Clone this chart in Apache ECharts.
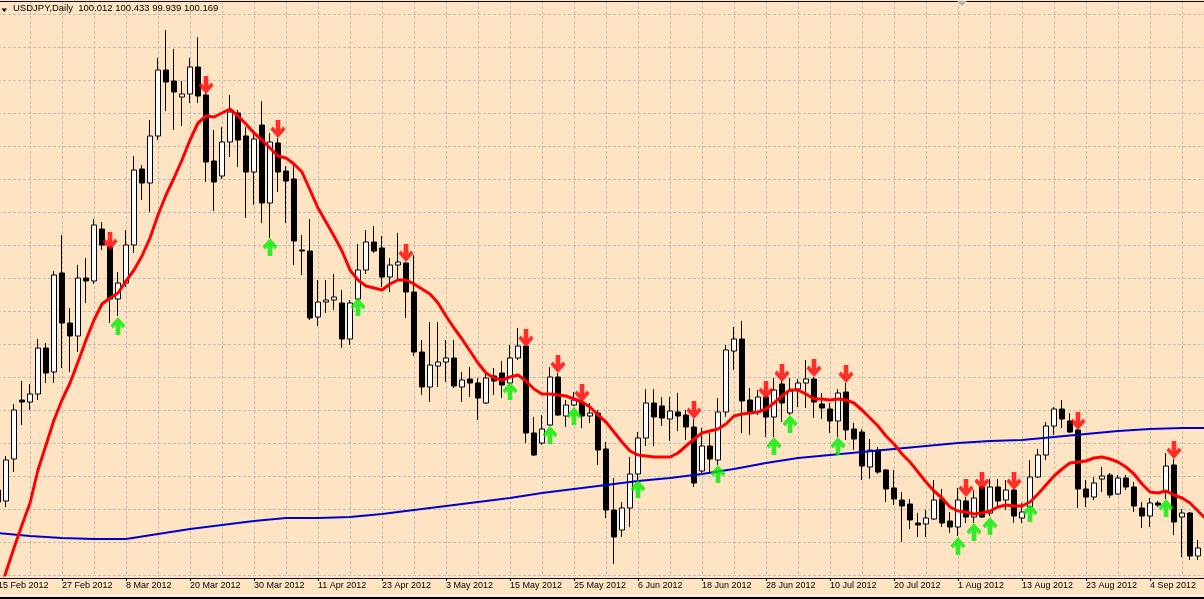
<!DOCTYPE html>
<html>
<head>
<meta charset="utf-8">
<title>USDJPY,Daily</title>
<script src="https://cdn.jsdelivr.net/npm/echarts@6/dist/echarts.min.js"></script>
<style>
html, body { margin: 0; padding: 0; background: #FFE4C4; }
#chart { width: 1204px; height: 599px; }
</style>
</head>
<body>
<div id="chart"></div>
<script>
// USDJPY daily candles (one value per trading day from 15 Feb 2012)
var openP = [
  78.40, 78.29, 78.71, 79.30, 79.28, 79.36, 79.82, 79.58, 80.57, 80.07,
  79.94, 80.52, 80.49, 81.01, 80.83, 80.31, 80.47, 80.85, 81.61, 81.47,
  81.94, 82.60, 82.49, 82.33, 82.36, 82.63, 82.35, 81.69, 81.54, 81.88,
  82.17, 81.94, 81.58, 82.05, 81.27, 81.87, 81.59, 81.51, 80.80, 80.79,
  80.13, 80.28, 80.30, 80.27, 79.91, 80.31, 80.60, 80.88, 80.82, 80.53,
  80.65, 80.67, 80.38, 79.78, 79.43, 79.64, 79.68, 79.72, 79.43, 79.51,
  79.47, 79.27, 79.54, 79.57, 79.47, 79.72, 79.84, 78.97, 78.87, 79.05,
  79.53, 79.14, 79.25, 79.28, 79.14, 79.17, 78.81, 78.20, 78.00, 78.22,
  78.56, 78.92, 79.27, 79.24, 79.11, 79.18, 79.15, 79.03, 78.59, 78.84,
  78.70, 79.18, 79.79, 79.91, 79.30, 79.18, 79.33, 79.13, 79.46, 79.17,
  79.41, 79.47, 79.51, 79.26, 79.21, 79.09, 79.38, 79.01, 78.98, 78.63,
  78.80, 78.60, 78.42, 78.30, 78.26, 78.07, 78.06, 78.11, 78.31, 78.09,
  78.03, 78.29, 78.13, 78.43, 78.17, 78.43, 78.30, 78.40, 78.12, 78.23,
  78.53, 78.75, 79.04, 79.21, 79.09, 79.00, 78.41, 78.33, 78.51, 78.55,
  78.36, 78.52, 78.43, 78.22, 78.14, 78.27, 78.39, 78.65, 78.13, 78.17, 77.74
];
var closeP = [
  78.28, 78.70, 79.20, 79.28, 79.36, 79.82, 79.57, 80.55, 80.07, 79.94,
  80.52, 80.49, 81.05, 80.85, 80.31, 80.47, 80.85, 81.60, 81.47, 81.94,
  82.60, 82.48, 82.38, 82.36, 82.63, 82.34, 81.68, 81.48, 81.88, 82.18,
  81.90, 81.58, 81.91, 81.27, 81.88, 81.58, 81.49, 80.89, 80.79, 80.12,
  80.28, 80.30, 80.33, 79.91, 80.27, 80.60, 80.88, 80.79, 80.53, 80.65,
  80.68, 80.38, 79.78, 79.43, 79.65, 79.68, 79.72, 79.44, 79.50, 79.47,
  79.32, 79.52, 79.49, 79.45, 79.72, 79.84, 78.97, 78.75, 79.01, 79.53,
  79.15, 79.25, 79.30, 79.14, 79.17, 78.80, 78.20, 77.93, 78.22, 78.56,
  78.92, 79.27, 79.13, 79.12, 79.19, 79.14, 79.03, 78.47, 78.84, 78.71,
  79.18, 79.80, 79.91, 79.29, 79.17, 79.33, 79.13, 79.40, 79.27, 79.39,
  79.47, 79.51, 79.28, 79.22, 79.09, 79.37, 79.00, 78.91, 78.64, 78.80,
  78.58, 78.41, 78.31, 78.24, 78.10, 78.05, 78.12, 78.30, 78.07, 78.03,
  78.30, 78.13, 78.32, 78.13, 78.43, 78.29, 78.40, 78.14, 78.18, 78.53,
  78.75, 79.04, 79.21, 79.11, 78.98, 78.41, 78.33, 78.47, 78.54, 78.35,
  78.52, 78.43, 78.24, 78.14, 78.27, 78.25, 78.64, 78.08, 78.17, 77.74, 77.82
];
var lowP = [
  78.20, 78.23, 78.58, 79.05, 79.20, 79.30, 79.47, 79.47, 79.62, 79.58,
  79.78, 80.27, 80.46, 80.80, 80.07, 80.14, 80.43, 80.77, 81.30, 81.18,
  81.90, 82.19, 82.00, 82.04, 82.27, 82.27, 81.48, 81.19, 81.51, 81.73,
  81.63, 81.12, 81.25, 81.07, 80.92, 81.38, 81.07, 80.65, 80.55, 80.10,
  80.04, 80.17, 80.20, 79.82, 79.85, 80.30, 80.56, 80.77, 80.43, 80.38,
  80.50, 80.12, 79.74, 79.35, 79.28, 79.43, 79.48, 79.42, 79.28, 79.33,
  79.10, 79.26, 79.35, 79.32, 79.46, 79.70, 78.87, 78.74, 78.85, 79.04,
  79.14, 79.03, 79.24, 79.02, 79.07, 78.65, 78.12, 77.66, 77.93, 78.03,
  78.50, 78.84, 78.84, 79.04, 78.89, 78.99, 78.90, 78.43, 78.57, 78.57,
  78.65, 79.13, 79.60, 78.97, 78.95, 79.15, 78.93, 78.93, 79.08, 79.15,
  79.23, 79.22, 79.12, 79.11, 78.97, 78.93, 78.90, 78.80, 78.50, 78.51,
  78.56, 78.28, 78.25, 77.88, 78.01, 77.93, 77.93, 78.10, 78.03, 77.97,
  77.94, 78.07, 78.07, 78.12, 78.14, 78.22, 78.20, 78.07, 78.07, 78.22,
  78.52, 78.70, 78.95, 79.02, 78.97, 78.22, 78.23, 78.30, 78.38, 78.32,
  78.35, 78.40, 78.18, 78.02, 78.03, 78.23, 78.31, 77.95, 77.73, 77.70, 77.70
];
var highP = [
  78.45, 78.74, 79.26, 79.49, 79.46, 79.91, 79.87, 80.59, 80.95, 80.22,
  80.65, 80.72, 81.11, 81.08, 80.84, 80.58, 81.00, 81.74, 81.65, 82.10,
  82.72, 83.00, 82.81, 82.49, 82.72, 82.93, 82.37, 82.00, 82.03, 82.35,
  82.20, 82.03, 82.00, 82.29, 81.97, 81.92, 81.64, 81.65, 80.95, 81.11,
  80.50, 80.50, 80.56, 80.40, 80.30, 80.86, 81.00, 81.04, 80.94, 80.72,
  80.97, 80.68, 80.75, 79.90, 80.08, 80.08, 79.90, 79.90, 79.58, 79.63,
  79.52, 79.57, 79.62, 79.69, 79.85, 80.02, 79.85, 79.13, 79.15, 79.63,
  79.57, 79.30, 79.38, 79.29, 79.27, 79.20, 78.88, 78.52, 78.28, 78.73,
  78.98, 79.41, 79.41, 79.33, 79.33, 79.37, 79.20, 79.11, 79.02, 78.97,
  79.32, 79.85, 80.03, 80.09, 79.42, 79.40, 79.34, 79.52, 79.49, 79.52,
  79.51, 79.70, 79.53, 79.37, 79.27, 79.41, 79.47, 79.07, 79.01, 78.91,
  78.83, 78.61, 78.60, 78.38, 78.31, 78.17, 78.20, 78.50, 78.41, 78.18,
  78.42, 78.33, 78.40, 78.44, 78.51, 78.51, 78.50, 78.41, 78.27, 78.70,
  78.81, 79.08, 79.23, 79.30, 79.17, 79.01, 78.50, 78.53, 78.63, 78.57,
  78.55, 78.55, 78.48, 78.28, 78.32, 78.29, 78.77, 78.71, 78.21, 78.18, 77.90
];

// fast moving average (red), one value per bar
var fastMA = [
  77.32, 77.58, 77.82, 78.05, 78.27, 78.60, 78.85, 79.10, 79.30, 79.47,
  79.68, 79.90, 80.10, 80.26, 80.32, 80.37, 80.49, 80.60, 80.74, 80.92,
  81.15, 81.35, 81.52, 81.70, 81.90, 82.07, 82.14, 82.13, 82.17, 82.21,
  82.14, 82.06, 81.97, 81.90, 81.82, 81.74, 81.72, 81.66, 81.58, 81.40,
  81.22, 81.08, 80.94, 80.79, 80.60, 80.50, 80.44, 80.42, 80.40, 80.46,
  80.50, 80.50, 80.46, 80.41, 80.36, 80.27, 80.14, 80.02, 79.91, 79.79,
  79.67, 79.57, 79.52, 79.50, 79.53, 79.55, 79.49, 79.41, 79.36, 79.36,
  79.35, 79.34, 79.31, 79.28, 79.23, 79.15, 79.08, 78.98, 78.88, 78.79,
  78.75, 78.74, 78.73, 78.73, 78.73, 78.77, 78.84, 78.91, 78.97, 78.99,
  79.01, 79.06, 79.14, 79.16, 79.17, 79.18, 79.21, 79.27, 79.34, 79.40,
  79.40, 79.36, 79.31, 79.31, 79.30, 79.31, 79.30, 79.27, 79.20, 79.12,
  79.04, 78.94, 78.86, 78.76, 78.68, 78.58, 78.48, 78.39, 78.32, 78.23,
  78.19, 78.18, 78.16, 78.17, 78.19, 78.23, 78.25, 78.24, 78.24, 78.28,
  78.36, 78.45, 78.54, 78.61, 78.67, 78.68, 78.69, 78.72, 78.73, 78.71,
  78.68, 78.63, 78.56, 78.46, 78.38, 78.37, 78.39, 78.35, 78.32, 78.27, 78.19, 78.11
];

// slow moving average (blue), read every 4th bar
var slowBars = [0, 4, 8, 12, 16, 20, 24, 28, 32, 36, 40, 44, 48, 52, 56, 60, 64, 68, 72, 76,
  80, 84, 88, 92, 96, 100, 104, 108, 112, 116, 120, 124, 128, 132, 136, 140, 144, 148, 151];
var slowMA = [77.97, 77.94, 77.92, 77.91, 77.91, 77.96, 78.01, 78.05, 78.09, 78.12, 78.12, 78.13,
  78.16, 78.20, 78.24, 78.28, 78.32, 78.37, 78.41, 78.45, 78.49, 78.52, 78.56, 78.61, 78.67,
  78.72, 78.75, 78.78, 78.81, 78.84, 78.87, 78.89, 78.90, 78.93, 78.96, 78.99, 79.01, 79.02, 79.02];

// signal arrows: bar index and price at the arrow tip
var sellBars = [14, 26, 35, 51, 66, 70, 73, 87, 96, 98, 102, 106, 121, 123, 127, 135, 147];
var sellTips = [80.80, 82.36, 81.92, 80.68, 79.83, 79.57, 79.28, 79.11, 79.31, 79.48, 79.53, 79.47,
  78.33, 78.40, 78.40, 79.00, 78.71];
var buyBars = [15, 34, 45, 64, 69, 72, 80, 90, 97, 99, 105, 120, 122, 124, 129, 146];
var buyTips = [80.13, 80.92, 80.32, 79.48, 79.04, 79.23, 78.50, 78.65, 78.93, 79.15, 78.93,
  77.93, 78.07, 78.13, 78.26, 78.31];

var monthNames = ['Jan', 'Feb', 'Mar', 'Apr', 'May', 'Jun', 'Jul', 'Aug', 'Sep', 'Oct', 'Nov', 'Dec'];
var barCount = 152;

// trading days (Mon-Fri) starting 15 Feb 2012
var dates = [];
var d = new Date(2012, 1, 15);
while (dates.length < barCount) {
  var wd = d.getDay();
  if (wd !== 0 && wd !== 6) {
    dates.push(d.getDate() + ' ' + monthNames[d.getMonth()] + ' ' + d.getFullYear());
  }
  d.setDate(d.getDate() + 1);
}

var candles = openP.map(function (o, i) {
  return [o, closeP[i], lowP[i], highP[i]];
});
var slowData = slowBars.map(function (b, i) { return [b, slowMA[i]]; });
var sellData = sellBars.map(function (b, i) { return [b, sellTips[i]]; });
var buyData = buyBars.map(function (b, i) { return [b, buyTips[i]]; });

var downArrow = 'path://M5.5 0 L10.5 0 L10.5 9.5 L13.5 6.5 L16 9.5 L8 18 L0 9.5 L2.5 6.5 L5.5 9.5 Z';
var upArrow = 'path://M5.5 18 L10.5 18 L10.5 8.5 L13.5 11.5 L16 8.5 L8 0 L0 8.5 L2.5 11.5 L5.5 8.5 Z';

var gridDash = { color: '#BDBDBD', width: 1, type: [3, 2] };

var chart = echarts.init(document.getElementById('chart'));
chart.setOption({
  animation: false,
  backgroundColor: '#FFE4C4',
  title: {
    text: 'USDJPY,Daily  100.012 100.433 99.939 100.169',
    left: 13,
    top: 3,
    padding: 0,
    textStyle: { fontFamily: 'Liberation Sans', fontSize: 9.5, fontWeight: 'normal', color: '#000' }
  },
  grid: { left: -2, right: -2, top: 1, bottom: 24, outerBoundsMode: 'none', containLabel: false },
  xAxis: {
    type: 'category',
    data: dates,
    boundaryGap: false,
    offset: 3,
    axisLine: { lineStyle: { color: '#000', width: 1 } },
    axisTick: { show: true, interval: 7, length: 3, lineStyle: { color: '#000' } },
    axisLabel: {
      interval: 7,
      align: 'left',
      margin: 3,
      hideOverlap: false,
      fontFamily: 'Liberation Sans',
      fontSize: 9,
      color: '#000'
    },
    splitLine: { show: true, interval: 3, lineStyle: gridDash }
  },
  yAxis: {
    type: 'value',
    min: 77.55,
    max: 83.29,
    interval: 0.33,
    axisLine: { show: false },
    axisTick: { show: false },
    axisLabel: { show: false },
    splitLine: { show: true, lineStyle: gridDash }
  },
  graphic: [
    { type: 'line', shape: { x1: 0, y1: 1.5, x2: 1204, y2: 1.5 }, style: { stroke: '#000', lineWidth: 1 }, z: 100 },
    { type: 'polygon', shape: { points: [[1.5, 8.5], [7, 8.5], [4.25, 12]] }, style: { fill: '#000' }, z: 100 },
    { type: 'polygon', shape: { points: [[957, 1], [967, 1], [962, 6]] }, style: { fill: '#B4B4B4' }, z: 100 },
    { type: 'rect', shape: { x: 0, y: 595, width: 1204, height: 1 }, style: { fill: '#FFF6EA' }, z: 100 },
    { type: 'rect', shape: { x: 0, y: 597, width: 1204, height: 2 }, style: { fill: '#000' }, z: 100 }
  ],
  series: [
    {
      name: 'USDJPY',
      type: 'candlestick',
      data: candles,
      barWidth: 5,
      z: 2,
      itemStyle: {
        color: '#FFFFFF',
        color0: '#000000',
        borderColor: '#000000',
        borderColor0: '#000000',
        borderWidth: 1
      }
    },
    {
      name: 'Slow MA',
      type: 'line',
      data: slowData,
      showSymbol: false,
      z: 3,
      lineStyle: { color: '#0000CC', width: 2 }
    },
    {
      name: 'Fast MA',
      type: 'line',
      data: fastMA,
      showSymbol: false,
      z: 4,
      lineStyle: { color: '#FF0000', width: 3 }
    },
    {
      name: 'Sell',
      type: 'scatter',
      data: sellData,
      symbol: downArrow,
      symbolSize: [15, 18],
      symbolOffset: [0, '-50%'],
      z: 5,
      itemStyle: { color: '#FF0000' }
    },
    {
      name: 'Buy',
      type: 'scatter',
      data: buyData,
      symbol: upArrow,
      symbolSize: [15, 18],
      symbolOffset: [0, '50%'],
      z: 5,
      itemStyle: { color: '#00F000' }
    }
  ]
});

window.addEventListener('resize', function () {
  chart.resize();
});
</script>
</body>
</html>
